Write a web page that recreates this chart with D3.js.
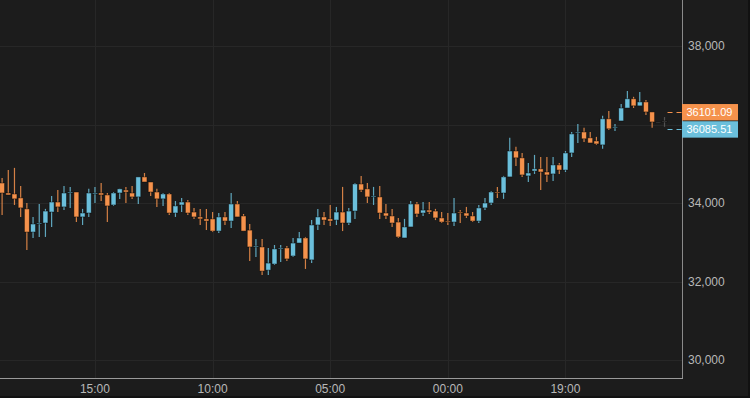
<!DOCTYPE html>
<html>
<head>
<meta charset="utf-8">
<script src="https://cdn.jsdelivr.net/npm/d3@7"></script>
<style>
  html, body { margin: 0; padding: 0; background: #111111; }
  svg { display: block; }
  text { font-family: 'Liberation Sans', Arial, sans-serif; }
</style>
</head>
<body>
<svg id="chart"></svg>
<script>
// candle data, one entry per candle
const opens = [
  34510, 34255, 34230, 34130, 33850, 33260, 33465, 33490, 33770, 34025,
  33900, 34255, 34280, 33645, 33745, 34230, 34255, 34205, 33950, 34255,
  34330, 34255, 34155, 34665, 34535, 34280, 34105, 34230, 33745, 33950,
  34025, 33770, 33645, 33595, 33595, 33285, 33645, 33540, 33975, 33670,
  33310, 32880, 32880, 32290, 32445, 32830, 32855, 32650, 32980, 33110,
  32550, 33440, 33645, 33595, 33565, 33770, 33490, 33795, 34485, 34360,
  34155, 34155, 33745, 33670, 33515, 33110, 33390, 33975, 33745, 33820,
  33795, 33620, 33540, 33515, 33770, 33745, 33670, 33540, 33875, 34000,
  34280, 34255, 34665, 35325, 35150, 34690, 34815, 34870, 34790, 34740,
  34970, 34840, 35275, 35785, 35810, 35660, 35580, 35480, 36145, 35915,
  36090, 36420, 36655, 36475, 36575, 36320, 36060, 36090
]
const highs = [
  34640, 34840, 34895, 34435, 34000, 33645, 33975, 33850, 34180, 34330,
  34435, 34410, 34280, 33850, 34360, 34410, 34510, 34255, 34280, 34360,
  34410, 34435, 34665, 34765, 34535, 34360, 34255, 34255, 34050, 34130,
  34075, 33875, 33850, 33850, 33770, 33745, 33770, 34255, 34050, 33720,
  33465, 33085, 33085, 32855, 32930, 32930, 32905, 33110, 33260, 33135,
  33565, 33850, 33770, 33950, 33900, 34410, 33875, 34510, 34690, 34510,
  34410, 34435, 33975, 33850, 33620, 33595, 34050, 34025, 34025, 34025,
  33850, 33770, 33745, 34130, 33820, 33900, 33770, 33950, 34130, 34305,
  34410, 34690, 35660, 35430, 35275, 35020, 35225, 35175, 35175, 35175,
  35020, 35325, 35810, 36015, 35915, 35810, 35685, 36220, 36345, 36015,
  36525, 36855, 36705, 36830, 36625, 36320, 36065, 36190
]
const lows = [
  33695, 34205, 33950, 33645, 32805, 33110, 33135, 33135, 33390, 33770,
  33820, 33875, 33515, 33440, 33645, 34000, 34050, 33515, 33925, 34105,
  34000, 34105, 33975, 34535, 34180, 33900, 33925, 33695, 33645, 33770,
  33695, 33595, 33440, 33310, 33260, 33235, 33440, 33365, 33645, 33285,
  32520, 32625, 32165, 32165, 32420, 32495, 32520, 32625, 32980, 32320,
  32470, 33310, 33440, 33415, 33440, 33285, 33440, 33595, 34280, 34000,
  33950, 33595, 33595, 33390, 33110, 33110, 33390, 33645, 33670, 33720,
  33565, 33490, 33440, 33415, 33490, 33620, 33515, 33490, 33820, 33950,
  34130, 34105, 34665, 34945, 34665, 34535, 34740, 34330, 34535, 34560,
  34740, 34790, 35175, 35530, 35555, 35530, 35480, 35380, 35860, 35835,
  36090, 36420, 36420, 36475, 36245, 35915, 36050, 35940
]
const closes = [
  34255, 34205, 34105, 33875, 33260, 33465, 33490, 33795, 34025, 33900,
  34255, 34280, 33645, 33745, 34255, 34255, 34205, 33925, 34255, 34360,
  34280, 34155, 34665, 34535, 34280, 34105, 34230, 33745, 33925, 34025,
  33745, 33645, 33595, 33540, 33285, 33645, 33540, 33975, 33645, 33285,
  32880, 32905, 32265, 32470, 32830, 32855, 32575, 32980, 33110, 32575,
  33440, 33645, 33565, 33540, 33770, 33490, 33795, 34485, 34330, 34155,
  34180, 33745, 33670, 33490, 33135, 33390, 33975, 33720, 33820, 33770,
  33620, 33515, 33515, 33745, 33745, 33670, 33540, 33875, 34000, 34280,
  34255, 34665, 35325, 35150, 34715, 34765, 34870, 34790, 34715, 34970,
  34840, 35275, 35760, 35810, 35635, 35530, 35505, 36145, 35890, 35940,
  36420, 36655, 36475, 36575, 36320, 36065, 36060, 36090
]

// x ticks sit on candle slots
const xTickSlots = [15, 34, 53, 72, 91]
const xTickLabels = ['15:00', '10:00', '05:00', '00:00', '19:00']
const yTicks = [30000, 32000, 34000, 36000, 38000]

// last price tags
const lastPrices = [36101.09, 36085.51]
const lastKinds = ['down', 'up']

const svgWidth = 748
const svgHeight = 396
const plotRight = 682
const plotBottom = 378
const slots = 110

const ORANGE = '#f5924c'
const BLUE = '#6bbfdb'
const GREY = '#5a5a5a'

const svg = d3.select('#chart').attr('width', svgWidth).attr('height', svgHeight)

svg.append('rect').attr('width', svgWidth).attr('height', svgHeight).attr('fill', '#1c1c1c')

const x = d3.scaleBand()
  .domain(d3.range(slots))
  .range([-1, 680])
  .paddingInner(0.2)
  .paddingOuter(0.1)

const y = d3.scaleLinear().domain([30000, 38000]).range([360, 46])

const cx = (i) => x(i) + x.bandwidth() / 2

// last price tags, pushed apart so they do not overlap
const tagH = 17.2
const tags = lastPrices.map((p, i) => ({ p, kind: lastKinds[i], yy: y(p) }))
const mid = d3.mean(tags, (t) => t.yy)
tags.sort((a, b) => b.p - a.p)
tags.forEach((t, i) => {
  t.yy = mid + (i - (tags.length - 1) / 2) * tagH
})
const tagTop = d3.min(tags, (t) => t.yy) - tagH / 2
const tagBottom = d3.max(tags, (t) => t.yy) + tagH / 2

// grid
const grid = svg.append('g')
grid.selectAll('line.h')
  .data(yTicks)
  .join('line')
  .attr('class', 'h')
  .attr('x1', 0).attr('x2', plotRight)
  .attr('y1', (d) => Math.round(y(d)) + 0.5)
  .attr('y2', (d) => Math.round(y(d)) + 0.5)
  .attr('stroke', '#272727')

grid.selectAll('line.v')
  .data(xTickSlots)
  .join('line')
  .attr('class', 'v')
  .attr('y1', 0).attr('y2', plotBottom)
  .attr('x1', (d) => Math.round(cx(d)) + 0.5)
  .attr('x2', (d) => Math.round(cx(d)) + 0.5)
  .attr('stroke', '#272727')

// candles
const candles = d3.range(opens.length).map((i) => ({
  i,
  o: opens[i],
  h: highs[i],
  l: lows[i],
  c: closes[i],
}))

const colorOf = (d) => (d.c > d.o ? BLUE : d.c < d.o ? ORANGE : GREY)

const cg = svg.append('g')

cg.selectAll('line')
  .data(candles)
  .join('line')
  .attr('x1', (d) => cx(d.i))
  .attr('x2', (d) => cx(d.i))
  .attr('y1', (d) => y(d.h))
  .attr('y2', (d) => y(d.l))
  .attr('stroke', colorOf)
  .attr('stroke-opacity', 0.85)
  .attr('stroke-width', 1.2)

cg.selectAll('rect')
  .data(candles)
  .join('rect')
  .attr('x', (d) => x(d.i))
  .attr('width', x.bandwidth())
  .attr('y', (d) => y(Math.max(d.o, d.c)))
  .attr('height', (d) => Math.max(1, Math.abs(y(d.o) - y(d.c))))
  .attr('fill', colorOf)
  .attr('stroke', 'rgba(0,0,0,0.55)')
  .attr('stroke-width', 0.8)

// axes lines
svg.append('line')
  .attr('x1', plotRight + 0.5).attr('x2', plotRight + 0.5)
  .attr('y1', 0).attr('y2', plotBottom + 1)
  .attr('stroke', '#8a8a8a')
svg.append('line')
  .attr('x1', 0).attr('x2', plotRight + 1)
  .attr('y1', plotBottom + 0.5).attr('y2', plotBottom + 0.5)
  .attr('stroke', '#9a9a9a')

// y labels (the ones under the price tags are hidden, as in the source)
svg.append('g')
  .selectAll('text')
  .data(yTicks.filter((d) => y(d) + 8 < tagTop || y(d) - 8 > tagBottom))
  .join('text')
  .attr('x', plotRight + 6)
  .attr('y', (d) => y(d))
  .attr('dy', '0.36em')
  .attr('fill', '#b8b8b8')
  .attr('font-size', 12)
  .text((d) => d3.format(',')(d))

// x labels
svg.append('g')
  .selectAll('text')
  .data(xTickSlots)
  .join('text')
  .attr('x', (d) => cx(d))
  .attr('y', 393)
  .attr('text-anchor', 'middle')
  .attr('fill', '#b8b8b8')
  .attr('font-size', 12)
  .text((d, i) => xTickLabels[i])

const lastX = cx(opens.length - 1)
const tg = svg.append('g')
tg.selectAll('line')
  .data(tags)
  .join('line')
  .attr('x1', lastX + 3)
  .attr('x2', plotRight)
  .attr('y1', (d) => Math.round(d.yy) + 0.5)
  .attr('y2', (d) => Math.round(d.yy) + 0.5)
  .attr('stroke', (d) => (d.kind === 'up' ? BLUE : ORANGE))
  .attr('stroke-dasharray', '5,4')

tg.selectAll('rect')
  .data(tags)
  .join('rect')
  .attr('x', plotRight)
  .attr('y', (d) => d.yy - tagH / 2 + 0.4)
  .attr('width', 56)
  .attr('height', tagH - 0.8)
  .attr('fill', (d) => (d.kind === 'up' ? BLUE : ORANGE))

tg.selectAll('text')
  .data(tags)
  .join('text')
  .attr('x', plotRight + 4.5)
  .attr('y', (d) => d.yy)
  .attr('dy', '0.36em')
  .attr('fill', '#ffffff')
  .attr('font-size', 11)
  .text((d) => d.p.toFixed(2))
</script>
</body>
</html>
